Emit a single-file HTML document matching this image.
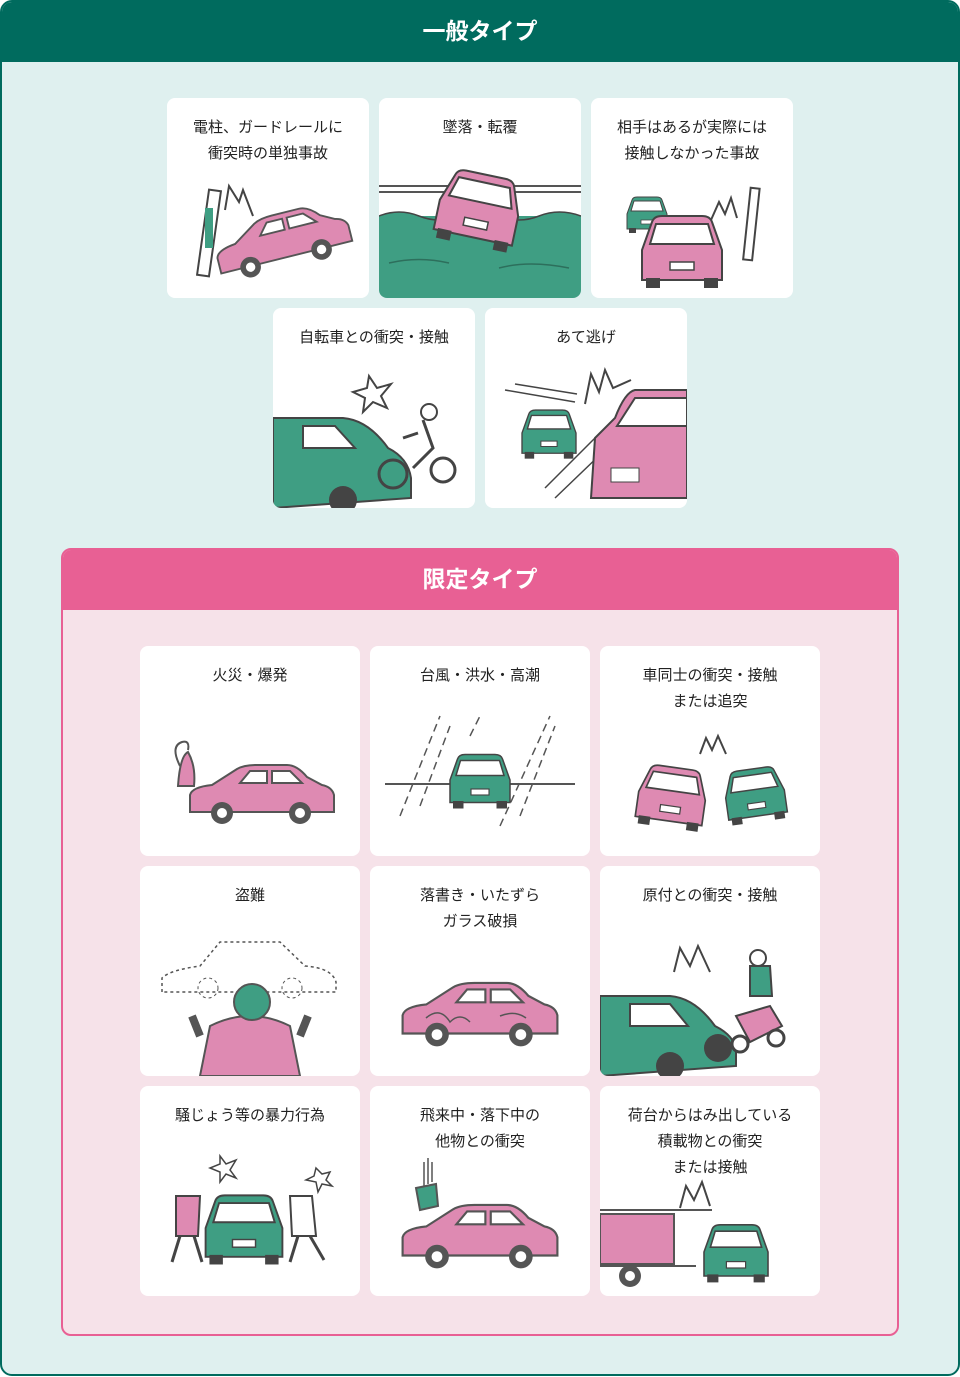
<!DOCTYPE html>
<html><head><meta charset="utf-8"><style>
*{margin:0;padding:0;box-sizing:border-box}
body{width:960px;height:1377px;background:#fff;font-family:"Liberation Sans","Noto Sans CJK JP",sans-serif;position:relative;overflow:hidden}
.outer{position:absolute;left:0;top:0;width:960px;height:1376px;border:2px solid #006b5e;border-radius:12px;background:#dff0ef;overflow:hidden}
.hd{position:absolute;left:0;top:0;width:100%;height:60px;background:#006b5e;color:#fff;font-size:23px;font-weight:bold;text-align:center;line-height:58px}
.pink{position:absolute;left:59px;top:546px;width:838px;height:788px;border:2px solid #e86094;border-radius:10px;background:#f6e2e9;overflow:hidden}
.phd{position:absolute;left:0;top:0;width:100%;height:60px;background:#e86094;color:#fff;font-size:23px;font-weight:bold;text-align:center;line-height:58px}
.c{position:absolute;background:#fff;border-radius:8px;overflow:hidden;text-align:center;font-size:15px;line-height:26px;color:#222;padding-top:17px}
.c svg{position:absolute;left:0;top:0}
.c span{position:relative;z-index:2}
</style></head><body>
<svg width="0" height="0" style="position:absolute">
<defs>
<symbol id="side" viewBox="0 0 160 70">
<path d="M8 55 L8 38 Q10 30 30 28 L55 12 Q62 8 75 8 L105 8 Q115 8 125 20 L140 28 Q150 30 152 38 L152 55 Z" fill="#de8ab2" stroke="#555" stroke-width="2"/>
<path d="M58 26 L68 14 L85 14 L85 26 Z M90 14 L108 14 L120 26 L90 26Z" fill="#fff" stroke="#555" stroke-width="2"/>
<circle cx="40" cy="56" r="11" fill="#555"/><circle cx="40" cy="56" r="5" fill="#fff"/>
<circle cx="118" cy="56" r="11" fill="#555"/><circle cx="118" cy="56" r="5" fill="#fff"/>
</symbol>
<symbol id="front" viewBox="0 0 100 80">
<path d="M10 70 L10 40 L20 12 Q22 6 30 6 L70 6 Q78 6 80 12 L90 40 L90 70 Z" fill="currentColor" stroke="#444" stroke-width="2"/>
<path d="M24 14 L76 14 L82 34 L18 34 Z" fill="#fff" stroke="#444" stroke-width="2"/>
<rect x="38" y="52" width="24" height="8" fill="#fff" stroke="#444" stroke-width="1.5"/>
<rect x="14" y="68" width="14" height="10" fill="#444"/><rect x="72" y="68" width="14" height="10" fill="#444"/>
</symbol>
</defs></svg>
<div class="outer">
<div class="hd">一般タイプ</div>

<div class="c" style="left:165px;top:96px;width:202px;height:200px"><span>電柱、ガードレールに<br>衝突時の単独事故</span>
<svg width="202" height="200"><rect x="36" y="92" width="12" height="86" fill="#fff" stroke="#444" stroke-width="2" transform="rotate(8 42 135)"/><rect x="38" y="110" width="8" height="40" fill="#3f9e83"/><path d="M58 112 L62 88 L72 104 L76 92 L86 118" fill="none" stroke="#444" stroke-width="2"/><use href="#side" x="40" y="105" width="150" height="72" transform="rotate(-14 115 140)"/></svg></div>

<div class="c" style="left:377px;top:96px;width:202px;height:200px"><span>墜落・転覆</span>
<svg width="202" height="200"><line x1="0" y1="88" x2="202" y2="88" stroke="#555" stroke-width="2"/><line x1="0" y1="94" x2="202" y2="94" stroke="#555" stroke-width="2"/><rect x="0" y="118" width="202" height="82" fill="#3f9e83"/><path d="M0 118 Q20 110 40 118 T80 118 T120 118 T160 118 T202 118" fill="#3f9e83" stroke="#444" stroke-width="1.5"/><use href="#front" x="50" y="70" width="100" height="80" style="color:#de8ab2" transform="rotate(12 100 110)"/><path d="M10 165 Q40 158 70 165 M120 170 Q150 162 190 170" stroke="#2d6f5c" fill="none" stroke-width="1.5"/></svg></div>

<div class="c" style="left:589px;top:96px;width:202px;height:200px"><span>相手はあるが実際には<br>接触しなかった事故</span>
<svg width="202" height="200"><use href="#front" x="26" y="96" width="60" height="40" style="color:#3f9e83"/><use href="#front" x="36" y="112" width="110" height="80" style="color:#de8ab2"/><path d="M120 122 L128 104 L134 116 L140 100 L146 120" fill="none" stroke="#444" stroke-width="2"/><rect x="156" y="90" width="9" height="72" fill="#fff" stroke="#444" stroke-width="2" transform="rotate(6 160 125)"/></svg></div>

<div class="c" style="left:271px;top:306px;width:202px;height:200px"><span>自転車との衝突・接触</span>
<svg width="202" height="200"><path d="M96 68 L104 80 L118 76 L108 88 L114 100 L100 94 L90 104 L92 90 L80 84 L94 80Z" fill="#fff" stroke="#444" stroke-width="2"/><path d="M0 110 L70 110 Q95 112 115 140 Q135 150 138 170 L138 190 L0 200Z" fill="#3f9e83" stroke="#444" stroke-width="2"/><path d="M30 118 L62 118 L82 140 L30 140Z" fill="#fff" stroke="#444" stroke-width="2"/><circle cx="70" cy="192" r="14" fill="#444"/><circle cx="120" cy="166" r="14" fill="none" stroke="#444" stroke-width="3"/><circle cx="170" cy="162" r="12" fill="none" stroke="#444" stroke-width="3"/><circle cx="156" cy="104" r="8" fill="#fff" stroke="#444" stroke-width="2"/><path d="M150 112 L160 140 L140 160 M145 125 L130 130" stroke="#444" stroke-width="3" fill="none"/></svg></div>

<div class="c" style="left:483px;top:306px;width:202px;height:200px"><span>あて逃げ</span>
<svg width="202" height="200"><use href="#front" x="22" y="98" width="84" height="54" style="color:#3f9e83"/><path d="M100 96 L106 66 L114 84 L120 62 L128 80 L146 72" fill="none" stroke="#444" stroke-width="2"/><path d="M20 82 L90 94 M30 76 L92 86 M60 180 L110 130 M70 190 L120 142" stroke="#444" stroke-width="1.5"/><path d="M202 82 L150 82 Q140 84 130 110 L110 130 L106 190 L202 190Z" fill="#de8ab2" stroke="#444" stroke-width="2"/><path d="M150 90 L202 90 L202 118 L132 118Z" fill="#fff" stroke="#444" stroke-width="2"/><rect x="126" y="160" width="28" height="14" fill="#fff" stroke="#444"/></svg></div>

<div class="pink">
<div class="phd">限定タイプ</div>

<div class="c" style="left:77px;top:96px;width:220px;height:210px"><span>火災・爆発</span>
<svg width="220" height="210"><path d="M40 120 Q30 100 42 96 Q50 94 48 104" fill="none" stroke="#555" stroke-width="2"/><path d="M38 140 Q40 110 48 106 Q56 120 54 140Z" fill="#de8ab2" stroke="#555" stroke-width="2"/><use href="#side" x="42" y="110" width="160" height="72"/></svg></div>

<div class="c" style="left:307px;top:96px;width:220px;height:210px"><span>台風・洪水・高潮</span>
<svg width="220" height="210"><g stroke="#555" stroke-width="1.5" stroke-dasharray="8 5"><line x1="30" y1="170" x2="70" y2="70"/><line x1="50" y1="160" x2="80" y2="80"/><line x1="130" y1="180" x2="180" y2="70"/><line x1="150" y1="170" x2="185" y2="80"/><line x1="100" y1="90" x2="110" y2="70"/></g><line x1="15" y1="138" x2="205" y2="138" stroke="#555" stroke-width="2"/><use href="#front" x="62" y="104" width="96" height="60" style="color:#3f9e83"/></svg></div>

<div class="c" style="left:537px;top:96px;width:220px;height:210px"><span>車同士の衝突・接触<br>または追突</span>
<svg width="220" height="210"><use href="#front" x="30" y="116" width="84" height="68" style="color:#de8ab2" transform="rotate(8 72 150)"/><use href="#front" x="118" y="110" width="74" height="76" style="color:#3f9e83" transform="rotate(-8 155 148)"/><path d="M100 108 L106 92 L112 104 L118 90 L126 108" fill="none" stroke="#444" stroke-width="2"/></svg></div>

<div class="c" style="left:77px;top:316px;width:220px;height:210px"><span>盗難</span>
<svg width="220" height="210"><path d="M22 126 L22 112 Q30 104 60 100 L80 76 L140 76 L165 100 Q192 102 196 116 L196 126 Z" fill="none" stroke="#555" stroke-width="1.5" stroke-dasharray="3 3"/><circle cx="68" cy="122" r="10" fill="none" stroke="#555" stroke-dasharray="3 3"/><circle cx="152" cy="122" r="10" fill="none" stroke="#555" stroke-dasharray="3 3"/><path d="M60 210 L70 160 Q110 140 150 160 L160 210Z" fill="#de8ab2" stroke="#555" stroke-width="2"/><circle cx="112" cy="136" r="18" fill="#3f9e83" stroke="#555" stroke-width="2"/><path d="M60 170 L52 150 M160 170 L168 150" stroke="#555" stroke-width="8"/></svg></div>

<div class="c" style="left:307px;top:316px;width:220px;height:210px"><span>落書き・いたずら<br>ガラス破損</span>
<svg width="220" height="210"><use href="#side" x="24" y="108" width="172" height="76"/><path d="M56 152 Q70 140 80 156 Q90 146 100 156 M130 150 Q145 144 156 152" stroke="#555" fill="none" stroke-width="1.5"/></svg></div>

<div class="c" style="left:537px;top:316px;width:220px;height:210px"><span>原付との衝突・接触</span>
<svg width="220" height="210"><path d="M74 106 L80 82 L90 100 L98 80 L110 106" fill="none" stroke="#444" stroke-width="2"/><path d="M0 130 L70 130 Q95 132 115 160 Q135 170 136 185 L136 200 L0 210Z" fill="#3f9e83" stroke="#444" stroke-width="2"/><path d="M30 138 L70 138 L88 160 L30 160Z" fill="#fff" stroke="#444" stroke-width="2"/><circle cx="70" cy="200" r="14" fill="#444"/><circle cx="118" cy="182" r="14" fill="#444"/><path d="M136 150 L170 140 L182 160 L150 176Z" fill="#de8ab2" stroke="#444" stroke-width="2"/><circle cx="158" cy="92" r="8" fill="#fff" stroke="#444" stroke-width="2"/><path d="M150 100 L170 100 L172 130 L150 130Z" fill="#3f9e83" stroke="#444" stroke-width="2"/><circle cx="140" cy="178" r="8" fill="#fff" stroke="#444" stroke-width="3"/><circle cx="176" cy="172" r="8" fill="#fff" stroke="#444" stroke-width="3"/></svg></div>

<div class="c" style="left:77px;top:536px;width:220px;height:210px"><span>騒じょう等の暴力行為</span>
<svg width="220" height="210"><use href="#front" x="56" y="96" width="96" height="92" style="color:#3f9e83"/><path d="M36 110 L60 110 L58 150 L36 150Z" fill="#de8ab2" stroke="#444" stroke-width="2"/><path d="M40 150 L32 176 M54 150 L62 176" stroke="#444" stroke-width="3"/><path d="M150 110 L172 110 L176 150 L152 150Z" fill="#fff" stroke="#444" stroke-width="2"/><path d="M158 150 L150 176 M170 150 L184 174" stroke="#444" stroke-width="3"/><path d="M80 70 L86 78 L96 74 L90 84 L96 92 L86 88 L80 96 L80 86 L70 82 L80 78Z M176 82 L182 88 L190 86 L186 94 L192 100 L182 98 L178 106 L176 96 L166 94 L174 90Z" fill="#fff" stroke="#444" stroke-width="1.5"/></svg></div>

<div class="c" style="left:307px;top:536px;width:220px;height:210px"><span>飛来中・落下中の<br>他物との衝突</span>
<svg width="220" height="210"><path d="M54 76 L54 100 M58 72 L58 98 M62 76 L62 96" stroke="#555" stroke-width="1.5"/><path d="M46 102 L66 98 L68 120 L50 124Z" fill="#3f9e83" stroke="#555" stroke-width="2"/><use href="#side" x="24" y="110" width="172" height="76"/></svg></div>

<div class="c" style="left:537px;top:536px;width:220px;height:210px"><span>荷台からはみ出している<br>積載物との衝突<br>または接触</span>
<svg width="220" height="210"><rect x="0" y="128" width="74" height="50" fill="#de8ab2" stroke="#555" stroke-width="2"/><line x1="0" y1="124" x2="112" y2="124" stroke="#555" stroke-width="2"/><line x1="0" y1="180" x2="96" y2="180" stroke="#555" stroke-width="2"/><circle cx="30" cy="190" r="11" fill="#555"/><circle cx="30" cy="190" r="5" fill="#fff"/><path d="M80 122 L86 100 L94 114 L102 96 L110 120" fill="none" stroke="#444" stroke-width="2"/><use href="#front" x="96" y="128" width="80" height="76" style="color:#3f9e83"/></svg></div>
</div>
</div>
</body></html>
